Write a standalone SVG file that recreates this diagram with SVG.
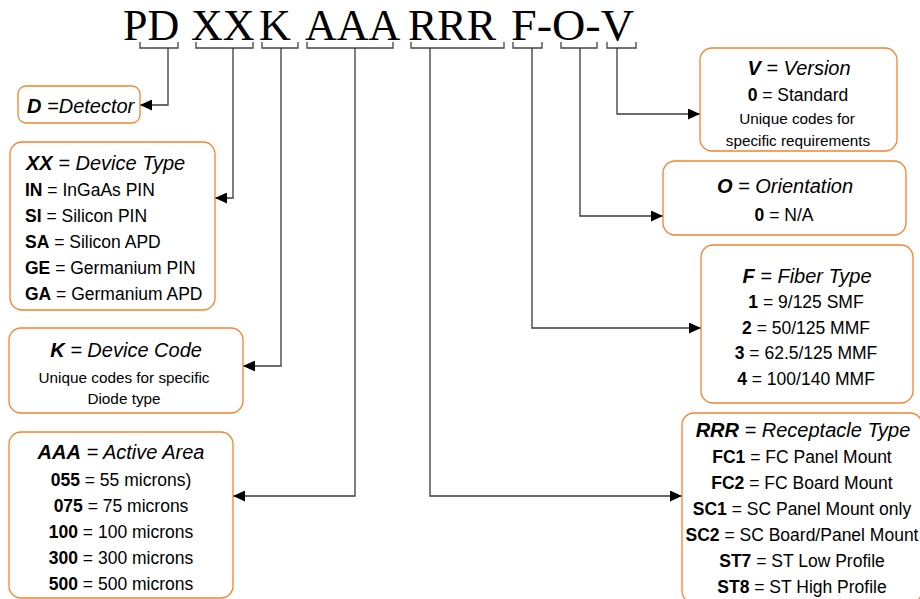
<svg xmlns="http://www.w3.org/2000/svg" width="920" height="599" viewBox="0 0 920 599">
<style>
.t{font-family:"Liberation Serif","Times New Roman",serif;font-size:44px;fill:#000}
.box{fill:#fff;stroke:#F5822E;stroke-width:1.3}
.br{fill:none;stroke:#444;stroke-width:1.3}
.cn{fill:none;stroke:#3a3a3a;stroke-width:1.3}
.h{font-family:"Liberation Sans",Arial,sans-serif;font-size:20px;font-style:italic;fill:#000}
.b{font-family:"Liberation Sans",Arial,sans-serif;font-size:17.5px;fill:#000}
.s{font-family:"Liberation Sans",Arial,sans-serif;font-size:15.3px;fill:#000}
.k{font-weight:bold}
.c{text-anchor:middle}
</style>
<defs>
<marker id="ah" markerUnits="userSpaceOnUse" markerWidth="13" markerHeight="11" refX="12" refY="5.5" orient="auto">
<path d="M0,0 L12,5.5 L0,11 Z" fill="#000"/>
</marker>
</defs>
<g id="title">
<text class="t" x="123" y="40">PD</text>
<text class="t" x="191" y="40">XX</text>
<text class="t" x="259" y="40">K</text>
<text class="t" x="305" y="40">AAA</text>
<text class="t" x="408" y="40">RRR</text>
<text class="t" x="511" y="40" textLength="123" lengthAdjust="spacingAndGlyphs">F-O-V</text>
</g>
<g id="brackets">
<path class="br" d="M140,42 V48 H178 V42"/>
<path class="br" d="M196,42 V48 H253 V42"/>
<path class="br" d="M262,42 V48 H298 V42"/>
<path class="br" d="M307,42 V48 H393 V42"/>
<path class="br" d="M411,42 V48 H504 V42"/>
<path class="br" d="M513,42 V48 H542 V42"/>
<path class="br" d="M561,42 V48 H597 V42"/>
<path class="br" d="M607,42 V48 H636 V42"/>
</g>
<g id="connectors">
<path class="cn" d="M168,48 V105 H140" marker-end="url(#ah)"/>
<path class="cn" d="M233,48 V198 H215" marker-end="url(#ah)"/>
<path class="cn" d="M281,48 V366 H243" marker-end="url(#ah)"/>
<path class="cn" d="M355,48 V496 H233" marker-end="url(#ah)"/>
<path class="cn" d="M430,48 V496 H682" marker-end="url(#ah)"/>
<path class="cn" d="M532,48 V328 H701" marker-end="url(#ah)"/>
<path class="cn" d="M580,48 V216 H663" marker-end="url(#ah)"/>
<path class="cn" d="M617,48 V114 H700" marker-end="url(#ah)"/>
</g>
<g id="node-D">
<rect class="box" x="18" y="86" width="122" height="37" rx="8"/>
<text class="h" x="27" y="113"><tspan class="k">D</tspan> =Detector</text>
</g>
<g id="node-XX">
<rect class="box" x="10" y="142" width="205" height="168" rx="12"/>
<text class="h" x="26" y="170"><tspan class="k">XX</tspan> = Device Type</text>
<text class="b" x="25" y="196"><tspan class="k">IN</tspan> = InGaAs PIN</text>
<text class="b" x="25" y="222"><tspan class="k">SI</tspan> = Silicon PIN</text>
<text class="b" x="25" y="248"><tspan class="k">SA</tspan> = Silicon APD</text>
<text class="b" x="25" y="274"><tspan class="k">GE</tspan> = Germanium PIN</text>
<text class="b" x="25" y="300"><tspan class="k">GA</tspan> = Germanium APD</text>
</g>
<g id="node-K">
<rect class="box" x="9" y="328" width="234" height="85" rx="12"/>
<text class="h c" x="126" y="357"><tspan class="k">K</tspan> = Device Code</text>
<text class="s c" x="124" y="383">Unique codes for specific</text>
<text class="s c" x="124" y="404">Diode type</text>
</g>
<g id="node-AAA">
<rect class="box" x="9" y="432" width="224" height="166" rx="12"/>
<text class="h c" x="121" y="459"><tspan class="k">AAA</tspan> = Active Area</text>
<text class="b c" x="121" y="486"><tspan class="k">055</tspan> = 55 microns)</text>
<text class="b c" x="121" y="512"><tspan class="k">075</tspan> = 75 microns</text>
<text class="b c" x="121" y="538"><tspan class="k">100</tspan> = 100 microns</text>
<text class="b c" x="121" y="564"><tspan class="k">300</tspan> = 300 microns</text>
<text class="b c" x="121" y="590"><tspan class="k">500</tspan> = 500 microns</text>
</g>
<g id="node-V">
<rect class="box" x="700" y="48" width="197" height="103" rx="12"/>
<text class="h c" x="799" y="75"><tspan class="k">V</tspan> = Version</text>
<text class="b c" x="798" y="101"><tspan class="k">0</tspan> = Standard</text>
<text class="s c" x="797" y="124">Unique codes for</text>
<text class="s c" x="798" y="146">specific requirements</text>
</g>
<g id="node-O">
<rect class="box" x="663" y="161" width="243" height="74" rx="12"/>
<text class="h c" x="785" y="193"><tspan class="k">O</tspan> = Orientation</text>
<text class="b c" x="784" y="221"><tspan class="k">0</tspan> = N/A</text>
</g>
<g id="node-F">
<rect class="box" x="701" y="245" width="212" height="158" rx="12"/>
<text class="h c" x="807" y="283"><tspan class="k">F</tspan> = Fiber Type</text>
<text class="b c" x="806" y="308"><tspan class="k">1</tspan> = 9/125 SMF</text>
<text class="b c" x="806" y="334"><tspan class="k">2</tspan> = 50/125 MMF</text>
<text class="b c" x="806" y="359"><tspan class="k">3</tspan> = 62.5/125 MMF</text>
<text class="b c" x="806" y="385"><tspan class="k">4</tspan> = 100/140 MMF</text>
</g>
<g id="node-RRR">
<rect class="box" x="682" y="413" width="240" height="190" rx="12"/>
<text class="h c" x="803" y="437"><tspan class="k">RRR</tspan> = Receptacle Type</text>
<text class="b c" x="802" y="463"><tspan class="k">FC1</tspan> = FC Panel Mount</text>
<text class="b c" x="802" y="489"><tspan class="k">FC2</tspan> = FC Board Mount</text>
<text class="b c" x="802" y="515"><tspan class="k">SC1</tspan> = SC Panel Mount only</text>
<text class="b c" x="802" y="541"><tspan class="k">SC2</tspan> = SC Board/Panel Mount</text>
<text class="b c" x="802" y="567"><tspan class="k">ST7</tspan> = ST Low Profile</text>
<text class="b c" x="802" y="593"><tspan class="k">ST8</tspan> = ST High Profile</text>
</g>
</svg>
